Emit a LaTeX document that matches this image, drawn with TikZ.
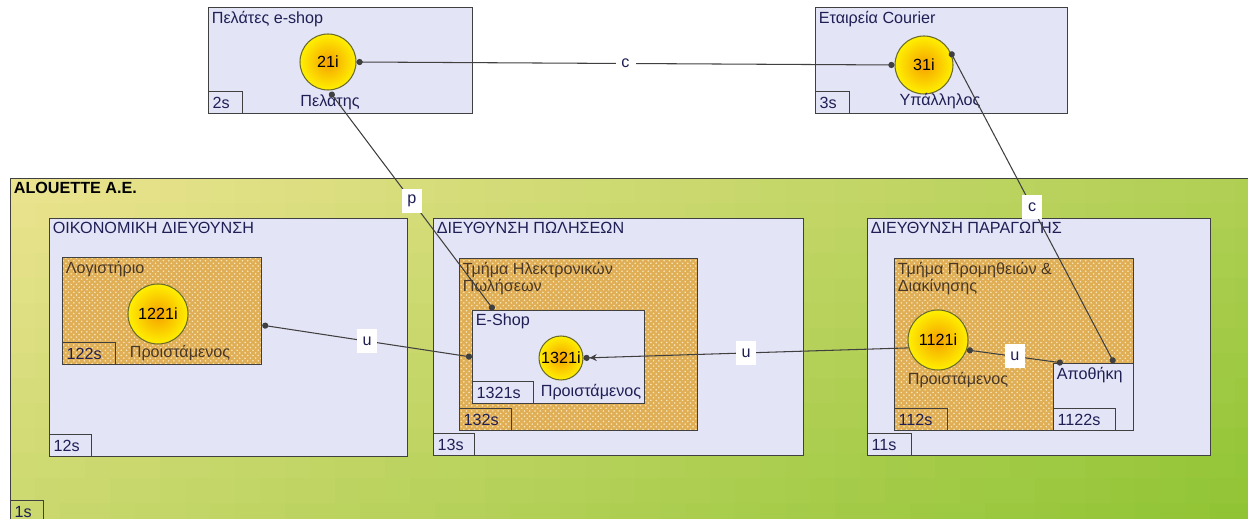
\documentclass[tikz,border=0pt]{standalone}
\usepackage{fontspec}
\setmainfont{Liberation Sans}
\usepackage{tikz}
\usetikzlibrary{arrows.meta,positioning,patterns}
\definecolor{Lav}{HTML}{E4E4F7}
\definecolor{Frame}{HTML}{404040}
\definecolor{Ochre}{HTML}{E0AE55}
\definecolor{OchreDot}{HTML}{F7E6BC}
\definecolor{Navy}{HTML}{1F1F55}
\definecolor{Umber}{HTML}{4A3826}
\definecolor{Lime}{HTML}{90C434}
\definecolor{Straw}{HTML}{EAE38E}
\definecolor{Sun}{HTML}{FFF000}
\definecolor{Amber}{HTML}{F5A000}
\definecolor{Olive}{HTML}{6A6A2A}

\begin{document}
\begin{tikzpicture}[x=0.02cm,y=-0.02cm,
  font=\fontsize{9.2}{10.2}\selectfont,
  unitbox/.style 2 args={draw=Frame,line width=0.7pt,fill=Lav,anchor=north west,inner sep=0pt,minimum width=#1*0.02cm,minimum height=#2*0.02cm},
  sectionbox/.style 2 args={unitbox={#1}{#2},preaction={fill=Ochre},pattern=crosshatch dots,pattern color=OchreDot},
  orgbox/.style 2 args={draw=Frame,line width=0.7pt,anchor=north west,inner sep=0pt,minimum width=#1*0.02cm,minimum height=#2*0.02cm},
  tagbox/.style={draw=Frame,line width=0.7pt,anchor=south west,inner xsep=0.08cm,inner ysep=0pt,minimum height=0.44cm,text width=#1,align=left,text=Navy},
  boxtitle/.style={anchor=north west,inner sep=2pt,align=left,text=Navy},
  actor/.style={circle,draw=Olive,line width=0.6pt,inner color=Amber,outer color=Sun,minimum size=#1*0.02cm,inner sep=0pt},
  role/.style={inner sep=1pt,text=Navy},
  link/.style={draw=Frame,line width=0.6pt,{Circle[length=3.5pt]}-{Circle[length=3.5pt]}},
  linklabel/.style={fill=white,inner sep=0pt,minimum width=0.4cm,minimum height=0.48cm,text=Navy}]
  \useasboundingbox (0,0) rectangle (1248,519);
  % gradient behind the organisation
  \begin{scope}
    \clip (10,178) rectangle (1252,522);
    \foreach \i in {0,...,49}{\foreach \j in {0,...,13}{
      \pgfmathtruncatemacro\mix{round(65*\i/49+35*\j/13)}
      \fill[Lime!\mix!Straw] (10+25*\i,178+25*\j) rectangle ++(26,26);
    }}
  \end{scope}
  % organisation and its units
  \node[orgbox={1242}{344}] (alouette) at (10,178) {};
  \node[unitbox={264}{106}] (pelates) at (208,7) {};
  \node[unitbox={252}{106}] (courier) at (815,7) {};
  \node[unitbox={358}{238}] (oikon) at (49,218) {};
  \node[unitbox={370}{237}] (polis) at (433,218) {};
  \node[unitbox={343}{237}] (paragog) at (867,218) {};
  \node[sectionbox={199}{107}] (logist) at (62,257) {};
  \node[sectionbox={238}{172}] (hlektr) at (459,258) {};
  \node[unitbox={172}{93}] (eshop) at (472,310) {};
  \node[sectionbox={239}{172}] (promith) at (894,258) {};
  \node[unitbox={80}{67}] (apothiki) at (1053,363) {};
  % titles
  \node[boxtitle,text=black,font=\fontsize{9.2}{10.2}\selectfont\bfseries] (tAlouette) at (alouette.north west) {ALOUETTE A.E.};
  \node[boxtitle] (tPelates) at (pelates.north west) {Πελάτες e-shop};
  \node[boxtitle] (tCourier) at (courier.north west) {Εταιρεία Courier};
  \node[boxtitle] (tOikon) at (oikon.north west) {ΟΙΚΟΝΟΜΙΚΗ ΔΙΕΥΘΥΝΣΗ};
  \node[boxtitle] (tPolis) at (polis.north west) {ΔΙΕΥΘΥΝΣΗ ΠΩΛΗΣΕΩΝ};
  \node[boxtitle] (tParagog) at (paragog.north west) {ΔΙΕΥΘΥΝΣΗ ΠΑΡΑΓΩΓΗΣ};
  \node[boxtitle,text=Umber] (tLogist) at (logist.north west) {Λογιστήριο};
  \node[boxtitle,text=Umber] (tHlektr) at (hlektr.north west) {Τμήμα Ηλεκτρονικών\\Πωλήσεων};
  \node[boxtitle] (tEshop) at (eshop.north west) {E-Shop};
  \node[boxtitle,text=Umber] (tPromith) at (promith.north west) {Τμήμα Προμηθειών \&\\Διακίνησης};
  \node[boxtitle] (tApothiki) at (apothiki.north west) {Αποθήκη};
  % tabs
  \node[tagbox=0.50cm] (s1) at (alouette.south west) {1s};
  \node[tagbox=0.52cm] (s2) at (pelates.south west) {2s};
  \node[tagbox=0.52cm] (s3) at (courier.south west) {3s};
  \node[tagbox=0.68cm] (s12) at (oikon.south west) {12s};
  \node[tagbox=0.66cm] (s13) at (polis.south west) {13s};
  \node[tagbox=0.72cm] (s11) at (paragog.south west) {11s};
  \node[tagbox=0.90cm] (s122) at (logist.south west) {122s};
  \node[tagbox=0.88cm] (s132) at (hlektr.south west) {132s};
  \node[tagbox=1.06cm] (s1321) at (eshop.south west) {1321s};
  \node[tagbox=0.90cm] (s112) at (promith.south west) {112s};
  \node[tagbox=1.08cm] (s1122) at (apothiki.south west) {1122s};
  % actors
  \node[actor=56] (c21) at (328,62) {21i};
  \node[actor=58] (c31) at (924,65) {31i};
  \node[actor=60] (c1221) at (158,314) {1221i};
  \node[actor=44] (c1321) at (561,358) {1321i};
  \node[actor=60] (c1121) at (938,340) {1121i};
  \node[role] (r21) at (330,102) {Πελάτης};
  \node[role] (r31) at (940,101) {Υπάλληλος};
  \node[role,text=Umber] (r1221) at (180,353) {Προιστάμενος};
  \node[role] (r1321) at (591,392) {Προιστάμενος};
  \node[role,text=Umber] (r1121) at (958,380) {Προιστάμενος};
  % links
  \draw[link] (c21.east) -- node[linklabel] (lc1) {c} (c31.west);
  \draw[link] (r21.north) -- node[linklabel] (lp) {p} (eshop.144);
  \draw[link] (c31.27) -- node[linklabel] (lc2) {c} (apothiki.59);
  \draw[link] (logist.-8) -- node[linklabel] (lu1) {u} (eshop.west);
  \draw[link,-{Stealth[length=4pt,width=4pt]Circle[length=3.5pt]}] (c1121.195) -- node[linklabel] (lu2) {u} (c1321.east);
  \draw[link] (c1121.-19) -- node[linklabel] (lu3) {u} (apothiki.132);
\end{tikzpicture}
\end{document}
